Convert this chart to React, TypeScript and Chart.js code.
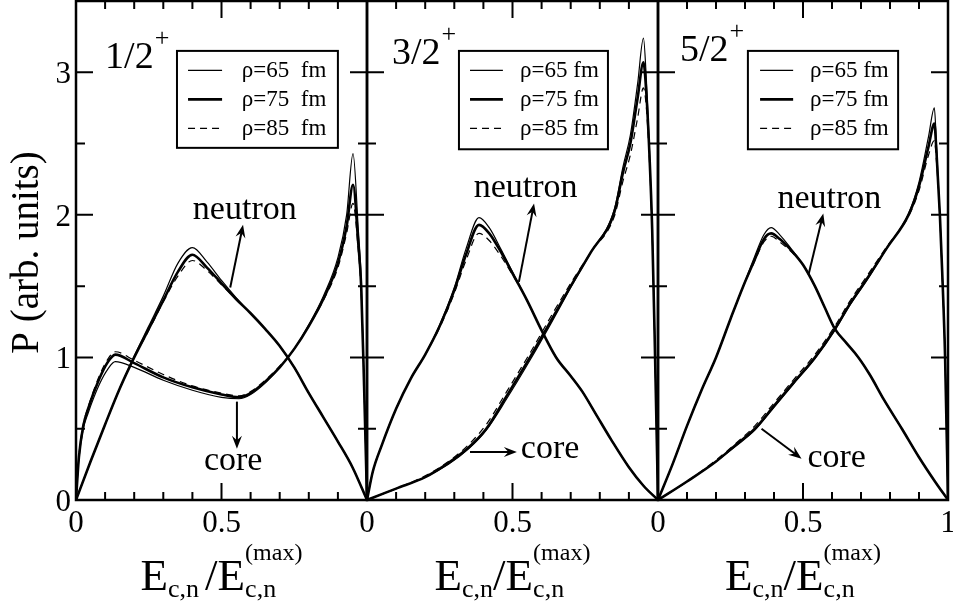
import React, { useEffect, useRef } from "react";
import { Chart, registerables } from "chart.js";

Chart.register(...registerables);

// ---------------- data ----------------
const Y_MAJOR = [0, 1, 2, 3];
const Y_MINOR = [0.5, 1.5, 2.5];
const X_MAJOR = [0, 0.5, 1];
const X_MINOR = [0.1, 0.2, 0.3, 0.4, 0.6, 0.7, 0.8, 0.9];
const Y_TICK_LABELS = ["0", "1", "2", "3"];
const X_TICK_LABELS = ["0", "0.5", "1"];
const PANEL_LABELS = ["1/2", "3/2", "5/2"];
const RHO_LABELS_WIDE = ["ρ=65  fm", "ρ=75  fm", "ρ=85  fm"];
const RHO_LABELS = ["ρ=65 fm", "ρ=75 fm", "ρ=85 fm"];
const Y_TITLE = "P (arb. units)";

// Panel 1 (1/2+)
const P1_N_X = [0, 0.05, 0.1, 0.15, 0.2, 0.25, 0.3, 0.35, 0.4, 0.45, 0.5, 0.55, 0.6, 0.65, 0.7, 0.75, 0.8, 0.85, 0.9, 0.95, 1];
const P1_N_65 = [0, 0.27, 0.53, 0.78, 1.01, 1.22, 1.43, 1.66, 1.77, 1.67, 1.54, 1.42, 1.31, 1.2, 1.08, 0.93, 0.75, 0.58, 0.41, 0.23, 0];
const P1_N_75 = [0, 0.27, 0.53, 0.78, 1.0, 1.2, 1.4, 1.6, 1.72, 1.63, 1.52, 1.41, 1.31, 1.2, 1.08, 0.93, 0.75, 0.58, 0.41, 0.23, 0];
const P1_N_85 = [0, 0.27, 0.53, 0.78, 1.0, 1.19, 1.39, 1.57, 1.68, 1.61, 1.51, 1.41, 1.31, 1.2, 1.08, 0.93, 0.75, 0.58, 0.41, 0.23, 0];
const P1_C_X = [0, 0.01, 0.025, 0.04, 0.08, 0.11, 0.135, 0.2, 0.3, 0.4, 0.5, 0.56, 0.6, 0.65, 0.7, 0.75, 0.8, 0.85, 0.9, 0.93, 0.952, 0.97, 0.98, 0.99, 1];
const P1_C_65 = [0, 0.29, 0.5, 0.6, 0.81, 0.92, 0.97, 0.93, 0.84, 0.77, 0.72, 0.71, 0.74, 0.82, 0.93, 1.06, 1.23, 1.43, 1.7, 2.0, 2.43, 1.9, 1.55, 0.8, 0];
const P1_C_75 = [0, 0.3, 0.52, 0.63, 0.85, 0.97, 1.02, 0.96, 0.86, 0.79, 0.74, 0.72, 0.75, 0.83, 0.93, 1.06, 1.22, 1.41, 1.66, 1.92, 2.21, 1.8, 1.5, 0.8, 0];
const P1_C_85 = [0, 0.31, 0.53, 0.64, 0.87, 0.99, 1.04, 0.98, 0.88, 0.8, 0.75, 0.73, 0.76, 0.84, 0.94, 1.06, 1.22, 1.4, 1.63, 1.87, 2.08, 1.75, 1.45, 0.8, 0];

// Panel 2 (3/2+)
const P2_N_X = [0, 0.02, 0.05, 0.1, 0.15, 0.2, 0.25, 0.3, 0.34, 0.385, 0.42, 0.46, 0.5, 0.55, 0.6, 0.65, 0.7, 0.74, 0.79, 0.84, 0.9, 0.95, 1];
const P2_N_65 = [0, 0.2, 0.38, 0.64, 0.85, 1.02, 1.23, 1.49, 1.76, 1.98, 1.91, 1.76, 1.6, 1.4, 1.19, 1.0, 0.87, 0.76, 0.59, 0.42, 0.23, 0.1, 0];
const P2_N_75 = [0, 0.2, 0.38, 0.64, 0.85, 1.02, 1.22, 1.47, 1.72, 1.93, 1.87, 1.74, 1.59, 1.4, 1.19, 1.0, 0.87, 0.76, 0.59, 0.42, 0.23, 0.1, 0];
const P2_N_85 = [0, 0.2, 0.38, 0.64, 0.85, 1.02, 1.21, 1.45, 1.68, 1.87, 1.82, 1.71, 1.58, 1.4, 1.19, 1.0, 0.87, 0.76, 0.59, 0.42, 0.23, 0.1, 0];
const P2_C_X = [0, 0.1, 0.2, 0.28, 0.35, 0.41, 0.48, 0.56, 0.63, 0.7, 0.77, 0.85, 0.88, 0.905, 0.93, 0.95, 0.96, 0.97, 0.98, 0.99, 1];
const P2_C_65 = [0, 0.08, 0.16, 0.25, 0.36, 0.49, 0.71, 0.98, 1.23, 1.49, 1.74, 2.04, 2.34, 2.56, 2.92, 3.24, 2.95, 2.5, 1.9, 1.0, 0];
const P2_C_75 = [0, 0.08, 0.16, 0.26, 0.37, 0.5, 0.73, 1.0, 1.25, 1.5, 1.74, 2.02, 2.3, 2.5, 2.82, 3.07, 2.85, 2.45, 1.9, 1.0, 0];
const P2_C_85 = [0, 0.08, 0.17, 0.27, 0.39, 0.53, 0.76, 1.03, 1.28, 1.52, 1.74, 1.99, 2.24, 2.42, 2.68, 2.89, 2.75, 2.4, 1.88, 1.0, 0];

// Panel 3 (5/2+)
const P3_N_X = [0, 0.05, 0.1, 0.15, 0.2, 0.25, 0.294, 0.33, 0.365, 0.39, 0.42, 0.46, 0.5, 0.541, 0.575, 0.61, 0.65, 0.691, 0.73, 0.78, 0.841, 0.9, 0.955, 1];
const P3_N_65 = [0, 0.25, 0.52, 0.77, 1.0, 1.27, 1.5, 1.69, 1.86, 1.91, 1.86, 1.76, 1.65, 1.5, 1.35, 1.2, 1.1, 1.0, 0.88, 0.7, 0.5, 0.3, 0.13, 0];
const P3_N_75 = [0, 0.25, 0.52, 0.77, 1.0, 1.27, 1.5, 1.67, 1.83, 1.87, 1.83, 1.75, 1.65, 1.5, 1.35, 1.2, 1.1, 1.0, 0.88, 0.7, 0.5, 0.3, 0.13, 0];
const P3_N_85 = [0, 0.25, 0.52, 0.77, 1.0, 1.27, 1.5, 1.66, 1.81, 1.85, 1.81, 1.74, 1.65, 1.5, 1.35, 1.2, 1.1, 1.0, 0.88, 0.7, 0.5, 0.3, 0.13, 0];
const P3_C_X = [0, 0.1, 0.2, 0.27, 0.334, 0.4, 0.47, 0.541, 0.61, 0.66, 0.72, 0.79, 0.864, 0.9, 0.933, 0.953, 0.96, 0.972, 0.98, 0.99, 1];
const P3_C_65 = [0, 0.13, 0.27, 0.38, 0.49, 0.65, 0.82, 0.99, 1.19, 1.36, 1.54, 1.77, 2.01, 2.23, 2.55, 2.75, 2.5, 2.0, 1.6, 1.0, 0];
const P3_C_75 = [0, 0.13, 0.27, 0.39, 0.5, 0.66, 0.83, 1.0, 1.2, 1.37, 1.55, 1.77, 2.0, 2.2, 2.48, 2.64, 2.45, 2.0, 1.6, 1.0, 0];
const P3_C_85 = [0, 0.13, 0.28, 0.4, 0.52, 0.68, 0.85, 1.02, 1.22, 1.39, 1.57, 1.78, 1.99, 2.17, 2.42, 2.52, 2.38, 1.98, 1.58, 1.0, 0];

const PANEL_DATA = [
  { nx: P1_N_X, n: [P1_N_65, P1_N_75, P1_N_85], cx: P1_C_X, c: [P1_C_65, P1_C_75, P1_C_85] },
  { nx: P2_N_X, n: [P2_N_65, P2_N_75, P2_N_85], cx: P2_C_X, c: [P2_C_65, P2_C_75, P2_C_85] },
  { nx: P3_N_X, n: [P3_N_65, P3_N_75, P3_N_85], cx: P3_C_X, c: [P3_C_65, P3_C_75, P3_C_85] },
];

// ---------------- layout / style ----------------
const W = 953;
const H = 607;
const PLOT_TOP = 1;
const PLOT_BOTTOM = 500;
const PANEL_BOUNDS = [
  [76, 367],
  [367, 658],
  [658, 948],
];
const SERIF = '"Liberation Serif", "Times New Roman", Tinos, "DejaVu Serif", serif';
const RHO_STYLES = [
  { width: 1.2, dash: [] as number[] },
  { width: 2.6, dash: [] as number[] },
  { width: 1.2, dash: [7, 5] },
];

const DECOR = [
  {
    label: { x: 0.1, y: 3.03 },
    legend: { x0: 0.347, x1: 0.9, y0: 3.15, y1: 2.47, lx0: 0.385, lx1: 0.502, tx: 0.57, rows: [3.013, 2.81, 2.607] },
    legendLabels: RHO_LABELS_WIDE,
    neutron: { x: 0.58, y: 1.974 },
    nArrow: [0.53, 1.49, 0.574, 1.93],
    core: { x: 0.54, y: 0.21 },
    cArrow: [0.553, 0.69, 0.553, 0.36],
    titleGap: 6,
    showLastX: false,
  },
  {
    label: { x: 0.086, y: 3.06 },
    legend: { x0: 0.316, x1: 0.828, y0: 3.15, y1: 2.46, lx0: 0.354, lx1: 0.467, tx: 0.526, rows: [3.013, 2.81, 2.607] },
    legendLabels: RHO_LABELS,
    neutron: { x: 0.545, y: 2.125 },
    nArrow: [0.522, 1.53, 0.574, 2.08],
    core: { x: 0.629, y: 0.294 },
    cArrow: [0.354, 0.336, 0.515, 0.336],
    titleGap: 0,
    showLastX: false,
  },
  {
    label: { x: 0.076, y: 3.08 },
    legend: { x0: 0.31, x1: 0.828, y0: 3.15, y1: 2.46, lx0: 0.352, lx1: 0.466, tx: 0.524, rows: [3.013, 2.81, 2.607] },
    legendLabels: RHO_LABELS,
    neutron: { x: 0.591, y: 2.05 },
    nArrow: [0.519, 1.58, 0.57, 2.01],
    core: { x: 0.616, y: 0.233 },
    cArrow: [0.357, 0.5, 0.495, 0.29],
    titleGap: 0,
    showLastX: true,
  },
];

function drawArrow(ctx: CanvasRenderingContext2D, x1: number, y1: number, x2: number, y2: number) {
  const ang = Math.atan2(y2 - y1, x2 - x1);
  const len = 13;
  const half = 5;
  const ux = Math.cos(ang);
  const uy = Math.sin(ang);
  ctx.lineWidth = 2;
  ctx.beginPath();
  ctx.moveTo(x1, y1);
  ctx.lineTo(x2 - ux * len * 0.6, y2 - uy * len * 0.6);
  ctx.stroke();
  ctx.beginPath();
  ctx.moveTo(x2, y2);
  ctx.lineTo(x2 - ux * len - uy * half, y2 - uy * len + ux * half);
  ctx.lineTo(x2 - ux * len * 0.65, y2 - uy * len * 0.65);
  ctx.lineTo(x2 - ux * len + uy * half, y2 - uy * len - ux * half);
  ctx.closePath();
  ctx.fill();
}

function drawXTitle(ctx: CanvasRenderingContext2D, cx: number, base: number, gap: number) {
  const big = `45px ${SERIF}`;
  const sub = `26px ${SERIF}`;
  const sup = `24px ${SERIF}`;
  ctx.font = big;
  const wE = ctx.measureText("E").width;
  const wSl = ctx.measureText("/").width;
  ctx.font = sub;
  const wSub = ctx.measureText("c,n").width;
  ctx.font = sup;
  const wSup = ctx.measureText("(max)").width;
  const total = wE + wSub + gap + wSl + wE + Math.max(wSub, wSup);
  let x = cx - total / 2;
  ctx.textAlign = "left";
  ctx.textBaseline = "alphabetic";
  ctx.font = big;
  ctx.fillText("E", x, base);
  x += wE;
  ctx.font = sub;
  ctx.fillText("c,n", x, base + 7);
  x += wSub + gap;
  ctx.font = big;
  ctx.fillText("/", x, base);
  x += wSl;
  ctx.fillText("E", x, base);
  x += wE;
  ctx.font = sub;
  ctx.fillText("c,n", x, base + 7);
  ctx.font = sup;
  ctx.fillText("(max)", x, base - 30);
}

function decorPlugin(index: number) {
  return {
    id: "panelDecor" + index,
    afterDraw(chart: any) {
      const ctx: CanvasRenderingContext2D = chart.ctx;
      const xs = chart.scales.x;
      const ys = chart.scales.y;
      const { left, right, top, bottom } = chart.chartArea;
      const X = (v: number) => xs.getPixelForValue(v);
      const Y = (v: number) => ys.getPixelForValue(v);
      const d = DECOR[index];
      ctx.save();
      ctx.strokeStyle = "#000";
      ctx.fillStyle = "#000";
      ctx.setLineDash([]);

      // ticks
      ctx.lineWidth = 2;
      ctx.beginPath();
      const yt = (vals: number[], len: number) => {
        for (const v of vals) {
          const p = Y(v);
          ctx.moveTo(left, p);
          ctx.lineTo(left + len, p);
          ctx.moveTo(right, p);
          ctx.lineTo(right - len, p);
        }
      };
      const xt = (vals: number[], len: number) => {
        for (const v of vals) {
          const p = X(v);
          ctx.moveTo(p, bottom);
          ctx.lineTo(p, bottom - len);
          ctx.moveTo(p, top);
          ctx.lineTo(p, top + len);
        }
      };
      yt(Y_MAJOR, 17);
      yt(Y_MINOR, 9);
      xt(X_MAJOR, 17);
      xt(X_MINOR, 8);
      ctx.stroke();

      // frame
      ctx.lineWidth = 2.5;
      ctx.strokeRect(left, top, right - left, bottom - top);

      // tick labels
      ctx.font = `31px ${SERIF}`;
      ctx.textBaseline = "alphabetic";
      if (index === 0) {
        ctx.textAlign = "right";
        Y_MAJOR.forEach((v, i) => ctx.fillText(Y_TICK_LABELS[i], left - 5, Y(v) + 11));
      }
      ctx.textAlign = "center";
      X_MAJOR.forEach((v, i) => {
        if (i === X_MAJOR.length - 1 && !d.showLastX) return;
        ctx.fillText(X_TICK_LABELS[i], X(v), bottom + 32);
      });

      // y title
      if (index === 0) {
        ctx.save();
        ctx.translate(38, (top + bottom) / 2 + 2);
        ctx.rotate(-Math.PI / 2);
        ctx.font = `39px ${SERIF}`;
        ctx.textAlign = "center";
        ctx.fillText(Y_TITLE, 0, 0);
        ctx.restore();
      }

      // x title
      drawXTitle(ctx, (left + right) / 2, bottom + 90, d.titleGap);

      // panel label
      ctx.textAlign = "left";
      ctx.font = `38px ${SERIF}`;
      const lx = X(d.label.x);
      const ly = Y(d.label.y);
      ctx.fillText(PANEL_LABELS[index], lx, ly);
      const lw = ctx.measureText(PANEL_LABELS[index]).width;
      ctx.font = `26px ${SERIF}`;
      ctx.fillText("+", lx + lw + 1, ly - 22);

      // legend
      const lg = d.legend;
      ctx.lineWidth = 2;
      ctx.strokeRect(X(lg.x0), Y(lg.y0), X(lg.x1) - X(lg.x0), Y(lg.y1) - Y(lg.y0));
      ctx.font = `23px ${SERIF}`;
      ctx.textBaseline = "middle";
      lg.rows.forEach((ry, i) => {
        const st = RHO_STYLES[i];
        ctx.lineWidth = st.width;
        ctx.setLineDash(st.dash);
        ctx.beginPath();
        ctx.moveTo(X(lg.lx0), Y(ry));
        ctx.lineTo(X(lg.lx1), Y(ry));
        ctx.stroke();
        ctx.setLineDash([]);
        ctx.fillText(d.legendLabels[i], X(lg.tx), Y(ry) + 1);
      });

      // annotations
      ctx.textBaseline = "alphabetic";
      ctx.textAlign = "center";
      ctx.font = `34px ${SERIF}`;
      ctx.fillText("neutron", X(d.neutron.x), Y(d.neutron.y));
      ctx.fillText("core", X(d.core.x), Y(d.core.y));
      const na = d.nArrow;
      drawArrow(ctx, X(na[0]), Y(na[1]), X(na[2]), Y(na[3]));
      const ca = d.cArrow;
      drawArrow(ctx, X(ca[0]), Y(ca[1]), X(ca[2]), Y(ca[3]));

      ctx.restore();
    },
  };
}

function buildChart(canvas: HTMLCanvasElement, index: number) {
  const pd = PANEL_DATA[index];
  const [pl, pr] = PANEL_BOUNDS[index];
  const datasets: any[] = [];
  const curves = [
    { xs: pd.nx, ys: pd.n, name: "neutron" },
    { xs: pd.cx, ys: pd.c, name: "core" },
  ];
  for (const cv of curves) {
    cv.ys.forEach((vals, r) => {
      datasets.push({
        label: `${cv.name} ${RHO_LABELS[r]}`,
        data: cv.xs.map((x, i) => ({ x, y: vals[i] })),
        borderColor: "#000",
        backgroundColor: "#000",
        borderWidth: RHO_STYLES[r].width,
        borderDash: RHO_STYLES[r].dash,
        pointRadius: 0,
        fill: false,
        tension: 0.3,
        cubicInterpolationMode: "monotone",
      });
    });
  }
  return new Chart(canvas, {
    type: "line",
    data: { datasets },
    options: {
      animation: false,
      responsive: false,
      events: [],
      layout: { padding: { left: pl, right: W - pr, top: PLOT_TOP, bottom: H - PLOT_BOTTOM } },
      scales: {
        x: { type: "linear", min: 0, max: 1, display: false },
        y: { type: "linear", min: 0, max: 3.5, display: false },
      },
      plugins: { legend: { display: false }, tooltip: { enabled: false } },
    },
    plugins: [decorPlugin(index)],
  } as any);
}

function Panel({ index }: { index: number }) {
  const ref = useRef<HTMLCanvasElement>(null);
  useEffect(() => {
    const chart = buildChart(ref.current as HTMLCanvasElement, index);
    let alive = true;
    const fonts: any = (document as any).fonts;
    if (fonts && fonts.load) {
      fonts
        .load('31px "Liberation Serif"')
        .then(() => {
          if (alive) chart.draw();
        })
        .catch(() => {});
    }
    return () => {
      alive = false;
      chart.destroy();
    };
  }, [index]);
  return (
    <canvas
      ref={ref}
      width={W}
      height={H}
      style={{ position: "absolute", left: 0, top: 0, width: W, height: H }}
    />
  );
}

export default function App() {
  return (
    <div
      style={{
        position: "fixed",
        left: 0,
        top: 0,
        width: W,
        height: H,
        background: "#fff",
        fontFamily: '"Liberation Serif", serif',
      }}
    >
      {[0, 1, 2].map((i) => (
        <Panel key={i} index={i} />
      ))}
    </div>
  );
}
